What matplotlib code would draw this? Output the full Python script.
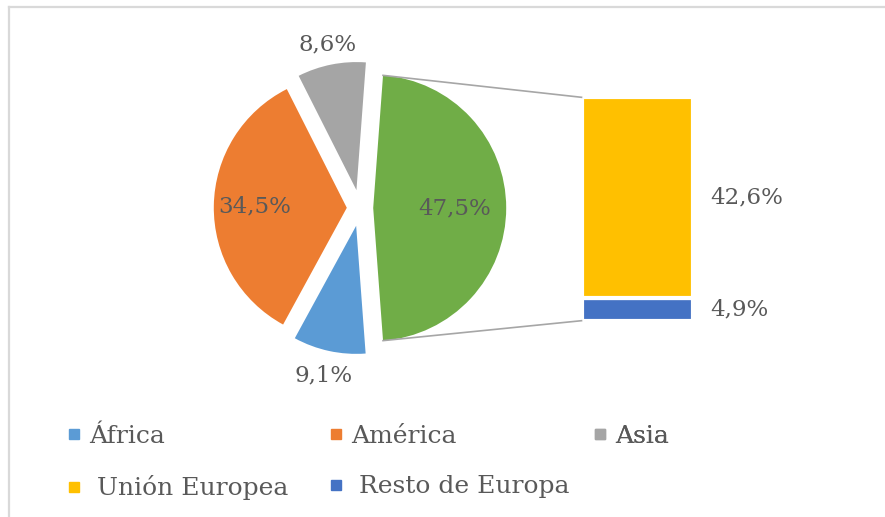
import math
import matplotlib
matplotlib.use("Agg")
import matplotlib.pyplot as plt
from matplotlib.lines import Line2D

# datos
regiones = ["África", "América", "Asia", "Europa"]
pct_regiones = [9.1, 34.5, 8.6, 47.5]
colores_regiones = ["#5B9BD5", "#ED7D31", "#A5A5A5", "#70AD47"]

europa = ["Unión Europea", "Resto de Europa"]
pct_europa = [42.6, 4.9]
colores_europa = ["#FFC000", "#4472C4"]

GRIS = "#595959"
FUENTE = "DejaVu Serif"


def fmt(v):
    return f"{v:.1f}%".replace(".", ",")


W, H = 885, 517
fig = plt.figure(figsize=(W / 100, H / 100), dpi=100)
ax = fig.add_axes([0, 0, 1, 1])

# tarta principal (coordenadas en pixeles)
cx, cy, r = 360, H - 208, 133
frac_eu = pct_regiones[3] / sum(pct_regiones)
inicio = 360 - 180 * frac_eu
explode = [18.2, 13.2, 18.2, 13.2]
wedges, _ = ax.pie(pct_regiones, colors=colores_regiones, startangle=inicio,
                   counterclock=False, radius=r, center=(cx, cy),
                   explode=explode, wedgeprops=dict(linewidth=0))
# las porciones pequeñas se ven algo mas cortas en el original
for w, k in zip(wedges, [0.963, 1.0, 0.963, 1.0]):
    w.set_radius(r * k)

dist = [1.153, 0.69, 1.117, 0.61]
for w, v, d in zip(wedges, pct_regiones, dist):
    th = math.radians((w.theta1 + w.theta2) / 2)
    x0, y0 = w.center
    ax.text(x0 + d * r * math.cos(th), y0 + d * r * math.sin(th), fmt(v),
            ha="center", va="center", fontsize=16.5, color=GRIS, family=FUENTE)

# barra de Europa
bar_x, bar_w = 581.5, 111.5
bar_y0 = H - 320.7
escala = 223.4 / sum(pct_europa)
base = bar_y0
for nombre, v, c in zip(europa[::-1], pct_europa[::-1], colores_europa[::-1]):
    ax.bar(bar_x, v * escala, width=bar_w, bottom=base, align="edge",
           color=c, edgecolor="white", linewidth=3)
    ax.text(bar_x + bar_w + 17, base + v * escala / 2, fmt(v), ha="left",
            va="center", fontsize=16.5, color=GRIS, family=FUENTE)
    base += v * escala

# lineas de conexion
w_eu = wedges[3]
ex, ey = w_eu.center
for ang, yb in [(w_eu.theta2, base), (w_eu.theta1, bar_y0)]:
    t = math.radians(ang)
    ax.plot([ex + r * math.cos(t), bar_x], [ey + r * math.sin(t), yb],
            color="#A6A6A6", linewidth=1.2)

# borde del grafico
ax.plot([9, 9], [0, H - 7], color="#D9D9D9", linewidth=1.6)
ax.plot([9, W], [H - 7, H - 7], color="#D9D9D9", linewidth=1.6)

ax.set_xlim(0, W)
ax.set_ylim(0, H)
ax.set_aspect("equal")
ax.axis("off")

# leyenda
etiquetas = regiones[:3] + [" " + e for e in europa]
colores = colores_regiones[:3] + colores_europa
columnas = [([0, 3], 68), ([1, 4], 330), ([2], 594)]
for idx, xl in columnas:
    handles = [Line2D([], [], marker="s", linestyle="none", markersize=6.5,
                      color=colores[i]) for i in idx]
    leg = ax.legend(handles, [etiquetas[i] for i in idx], loc="upper left",
                    bbox_to_anchor=(xl, H - 425), bbox_transform=ax.transData,
                    frameon=False, borderpad=0, borderaxespad=0,
                    handlelength=0.45, handletextpad=0.4, labelspacing=1.1,
                    prop=dict(family=FUENTE, size=18), labelcolor=GRIS)
    ax.add_artist(leg)

fig.savefig("out.png", dpi=100)
